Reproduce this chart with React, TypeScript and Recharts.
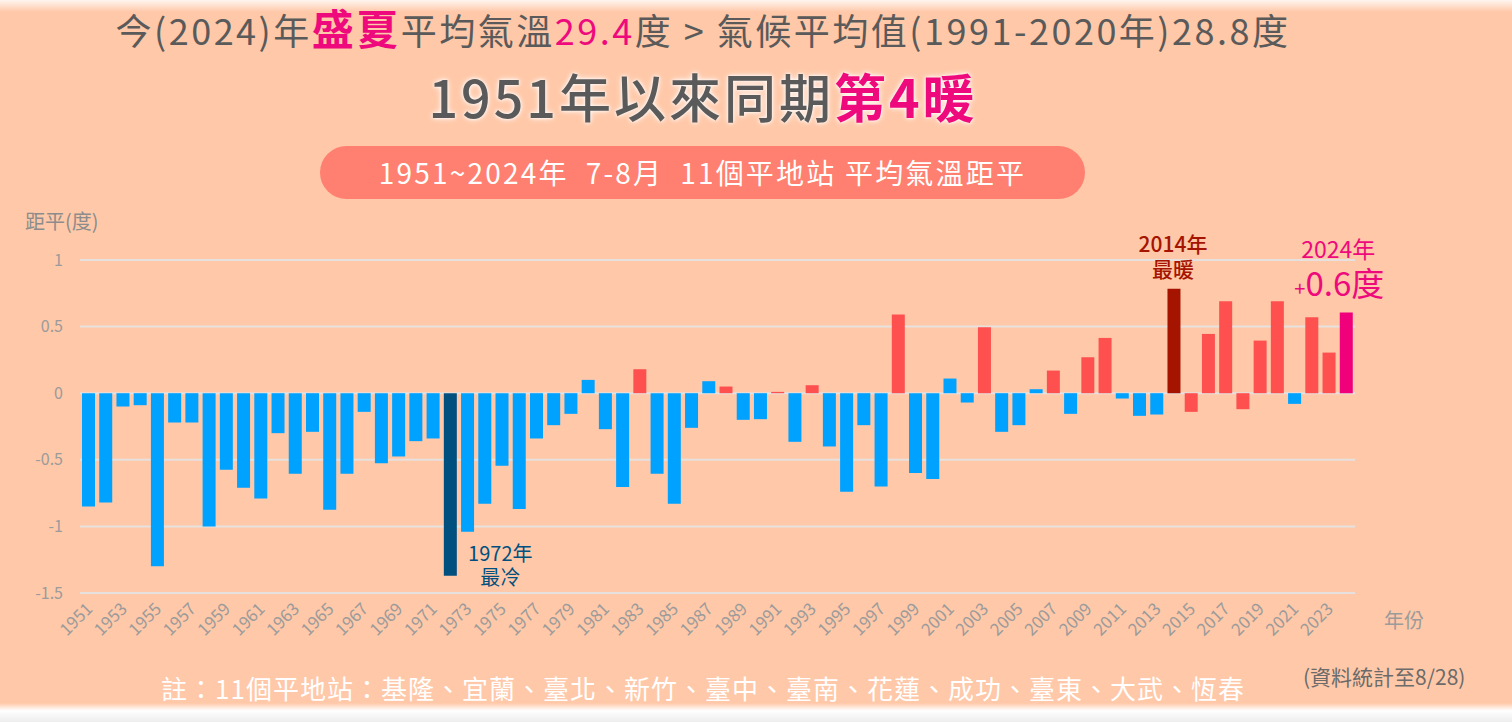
import React from "react";
import { BarChart, Bar, XAxis, YAxis, CartesianGrid, Cell, LabelList } from "recharts";

// 1951~2024, 7-8月 11個平地站 平均氣溫距平 (度)
const years = [
  1951, 1952, 1953, 1954, 1955, 1956, 1957, 1958, 1959, 1960,
  1961, 1962, 1963, 1964, 1965, 1966, 1967, 1968, 1969, 1970,
  1971, 1972, 1973, 1974, 1975, 1976, 1977, 1978, 1979, 1980,
  1981, 1982, 1983, 1984, 1985, 1986, 1987, 1988, 1989, 1990,
  1991, 1992, 1993, 1994, 1995, 1996, 1997, 1998, 1999, 2000,
  2001, 2002, 2003, 2004, 2005, 2006, 2007, 2008, 2009, 2010,
  2011, 2012, 2013, 2014, 2015, 2016, 2017, 2018, 2019, 2020,
  2021, 2022, 2023, 2024,
];

const anomalies = [
  -0.85, -0.82, -0.1, -0.09, -1.3, -0.22, -0.22, -1.0, -0.575, -0.71,
  -0.79, -0.3, -0.605, -0.29, -0.875, -0.605, -0.14, -0.525, -0.475, -0.36,
  -0.34, -1.37, -1.04, -0.83, -0.545, -0.87, -0.34, -0.24, -0.155, 0.1,
  -0.27, -0.705, 0.18, -0.605, -0.83, -0.26, 0.09, 0.05, -0.2, -0.195,
  0.01, -0.365, 0.06, -0.4, -0.74, -0.24, -0.7, 0.59, -0.6, -0.645,
  0.11, -0.07, 0.495, -0.29, -0.24, 0.03, 0.17, -0.155, 0.27, 0.415,
  -0.04, -0.17, -0.16, 0.785, -0.14, 0.445, 0.69, -0.12, 0.395, 0.69,
  -0.08, 0.57, 0.305, 0.605,
];

// years drawn in the warm colour
const warmYears = [
  1983, 1988, 1991, 1993, 1998, 2003, 2007, 2009, 2010, 2015, 2016, 2017,
  2018, 2019, 2020, 2022, 2023,
];
const coldestYear = 1972;
const warmestYear = 2014;
const thisYear = 2024;

const yTicks = [-1.5, -1, -0.5, 0, 0.5, 1];

const stations = [
  "基隆", "宜蘭", "臺北", "新竹", "臺中", "臺南", "花蓮", "成功", "臺東", "大武", "恆春",
];

const data = years.map((year, i) => ({ year, value: anomalies[i] }));

const FONT = '"Noto Sans CJK TC", "Noto Sans", sans-serif';
const GREY = "#5A5A5A";
const MAGENTA = "#EE0A7C";

function barColor(year: number) {
  if (year === coldestYear) return "#00507F";
  if (year === warmestYear) return "#A51400";
  if (year === thisYear) return "#F0007A";
  if (warmYears.includes(year)) return "#FF5050";
  return "#00A2FF";
}

function YearTick({ x, y, payload }: any) {
  const tx = x + 5;
  const ty = y + 9;
  return (
    <text
      x={tx}
      y={ty}
      transform={`rotate(-45, ${tx}, ${ty})`}
      textAnchor="end"
      fill="#9B9B9B"
      fontSize={17}
      fontFamily={FONT}
    >
      {payload.value}
    </text>
  );
}

function Callout(props: any) {
  const { x, y, width, height, index } = props;
  const year = years[index];
  const cx = x + width / 2;
  const top = Math.min(y, y + height);
  const bottom = Math.max(y, y + height);

  if (year === coldestYear) {
    return (
      <g fill="#00507F" fontFamily={FONT} fontSize={20} textAnchor="middle">
        <text x={cx + 50} y={bottom - 15}>1972年</text>
        <text x={cx + 50} y={bottom + 9}>最冷</text>
      </g>
    );
  }
  if (year === warmestYear) {
    return (
      <g fill="#A51400" fontFamily={FONT} fontSize={21} fontWeight={500} textAnchor="middle">
        <text x={cx - 1} y={top - 37}>2014年</text>
        <text x={cx - 1} y={top - 12}>最暖</text>
      </g>
    );
  }
  if (year === thisYear) {
    return (
      <g fill={MAGENTA} fontFamily={FONT} textAnchor="middle">
        <text x={cx - 8} y={top - 55} fontSize={23}>2024年</text>
        <text x={cx - 7} y={top - 17}>
          <tspan fontSize={20}>+</tspan>
          <tspan fontSize={33}>0.6度</tspan>
        </text>
      </g>
    );
  }
  return null;
}

export default function App() {
  return (
    <div
      style={{
        position: "absolute",
        left: 0,
        top: 0,
        width: 1512,
        height: 722,
        background: "#FFC8A8",
        overflow: "hidden",
        fontFamily: FONT,
      }}
    >
      <div
        style={{
          position: "absolute",
          left: 0,
          top: 0,
          width: 1512,
          height: 12,
          background: "linear-gradient(#FFF6F0, rgba(255,200,168,0))",
        }}
      />

      <div
        style={{
          position: "absolute",
          left: 0,
          top: 2,
          width: 1406,
          textAlign: "center",
          fontSize: 36,
          lineHeight: "50px",
          letterSpacing: 2.5,
          color: GREY,
          whiteSpace: "pre",
        }}
      >
        今(2024)年
        <span style={{ color: MAGENTA, fontWeight: 700, fontSize: 42, lineHeight: "50px" }}>盛夏</span>
        平均氣溫<span style={{ color: MAGENTA }}>29.4</span>度 &gt; 氣候平均值(1991-2020年)28.8度
      </div>

      <div
        style={{
          position: "absolute",
          left: 0,
          top: 64,
          width: 1406,
          textAlign: "center",
          fontSize: 52,
          lineHeight: "64px",
          letterSpacing: 3,
          fontWeight: 500,
          color: GREY,
          textShadow: "0 0 6px #fff, 0 0 3px #fff",
        }}
      >
        1951年以來同期<span style={{ color: MAGENTA, fontWeight: 700 }}>第4暖</span>
      </div>

      <div
        style={{
          position: "absolute",
          left: 320,
          top: 146,
          width: 765,
          height: 53,
          borderRadius: 27,
          background: "#FF8070",
          color: "#fff",
          fontSize: 28,
          lineHeight: "53px",
          letterSpacing: 2.2,
          textAlign: "center",
          whiteSpace: "pre",
        }}
      >
        1951~2024年  7-8月  11個平地站 平均氣溫距平
      </div>

      <div
        style={{ position: "absolute", left: 25, top: 206, fontSize: 20, color: "#8C8C8C" }}
      >
        距平(度)
      </div>
      <div
        style={{ position: "absolute", left: 1384, top: 605, fontSize: 20, color: "#9B9B9B" }}
      >
        年份
      </div>

      <div style={{ position: "absolute", left: 0, top: 200 }}>
        <BarChart
          width={1512}
          height={450}
          data={data}
          margin={{ top: 60, right: 157, bottom: 0, left: 0 }}
          barSize={13}
        >
          <CartesianGrid vertical={false} stroke="#E6E1DE" strokeWidth={2} />
          <XAxis
            dataKey="year"
            interval={1}
            axisLine={false}
            tickLine={false}
            height={57}
            tick={<YearTick />}
          />
          <YAxis
            domain={[-1.5, 1]}
            ticks={yTicks}
            axisLine={false}
            tickLine={false}
            width={80}
            tickMargin={11}
            tick={{ fill: "#9B9B9B", fontSize: 16, fontFamily: FONT }}
          />
          <Bar dataKey="value" isAnimationActive={false}>
            {data.map((d) => (
              <Cell key={d.year} fill={barColor(d.year)} />
            ))}
            <LabelList dataKey="value" content={<Callout />} />
          </Bar>
        </BarChart>
      </div>

      <div
        style={{
          position: "absolute",
          left: 0,
          top: 671,
          width: 1406,
          textAlign: "center",
          fontSize: 26,
          lineHeight: "34px",
          color: "#fff",
          letterSpacing: 1,
        }}
      >
        註：11個平地站：{stations.join("、")}
      </div>

      <div
        style={{
          position: "absolute",
          left: 1303,
          top: 661,
          fontSize: 21,
          lineHeight: "30px",
          color: "#6B6B6B",
        }}
      >
        (資料統計至8/28)
      </div>

      <div
        style={{
          position: "absolute",
          left: 0,
          top: 703,
          width: 1512,
          height: 19,
          background: "linear-gradient(rgba(255,200,168,0), #FFFFFF 40%, #EDEDED)",
        }}
      />
    </div>
  );
}
